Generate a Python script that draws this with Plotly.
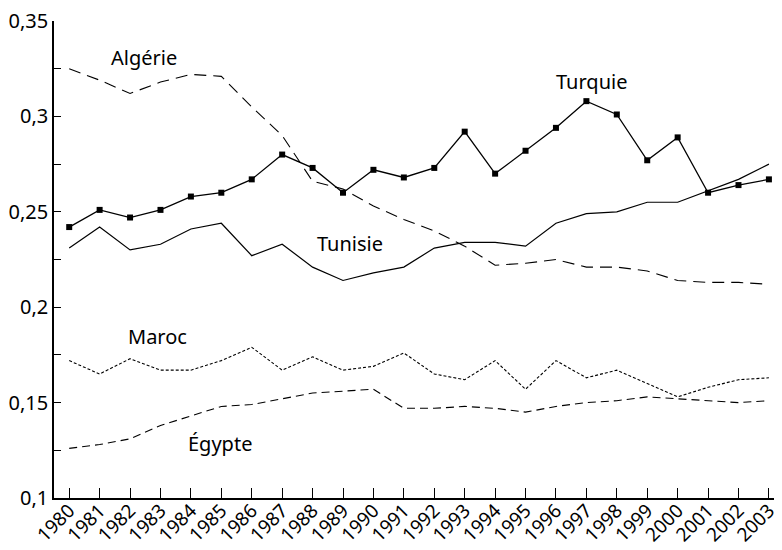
import plotly.graph_objects as go

years = list(range(1980, 2004))

turquie = [0.242, 0.251, 0.247, 0.251, 0.258, 0.260, 0.267, 0.280, 0.273, 0.260, 0.272, 0.268,
           0.273, 0.292, 0.270, 0.282, 0.294, 0.308, 0.301, 0.277, 0.289, 0.260, 0.264, 0.267]
tunisie = [0.231, 0.242, 0.230, 0.233, 0.241, 0.244, 0.227, 0.233, 0.221, 0.214, 0.218, 0.221,
           0.231, 0.234, 0.234, 0.232, 0.244, 0.249, 0.250, 0.255, 0.255, 0.261, 0.267, 0.275]
algerie = [0.325, 0.319, 0.312, 0.318, 0.322, 0.321, 0.305, 0.290, 0.266, 0.262, 0.253, 0.246,
           0.240, 0.232, 0.222, 0.223, 0.225, 0.221, 0.221, 0.219, 0.214, 0.213, 0.213, 0.212]
maroc = [0.172, 0.165, 0.173, 0.167, 0.167, 0.172, 0.179, 0.167, 0.174, 0.167, 0.169, 0.176,
         0.165, 0.162, 0.172, 0.157, 0.172, 0.163, 0.167, 0.160, 0.153, 0.158, 0.162, 0.163]
egypte = [0.126, 0.128, 0.131, 0.138, 0.143, 0.148, 0.149, 0.152, 0.155, 0.156, 0.157, 0.147,
          0.147, 0.148, 0.147, 0.145, 0.148, 0.150, 0.151, 0.153, 0.152, 0.151, 0.150, 0.151]

y_tickvals = [0.1, 0.125, 0.15, 0.175, 0.2, 0.225, 0.25, 0.275, 0.3, 0.325, 0.35]
y_ticktext = ["0,1", "", "0,15", "", "0,2", "", "0,25", "", "0,3", "", "0,35"]

labels = ["Algérie", "Turquie", "Tunisie", "Maroc", "Égypte"]
label_x = [1982.46, 1997.17, 1989.22, 1982.91, 1984.97]
label_y = [0.3309, 0.3183, 0.2335, 0.1847, 0.1287]

FONT = "Noto Sans"

fig = go.Figure()
fig.add_trace(go.Scatter(x=years, y=algerie, mode="lines",
                         line=dict(color="black", width=1.1, dash="12px,7px")))
fig.add_trace(go.Scatter(x=years, y=turquie, mode="lines+markers",
                         line=dict(color="black", width=1.3),
                         marker=dict(symbol="square", size=6, color="black")))
fig.add_trace(go.Scatter(x=years, y=tunisie, mode="lines",
                         line=dict(color="black", width=1.2)))
fig.add_trace(go.Scatter(x=years, y=maroc, mode="lines",
                         line=dict(color="black", width=1.1, dash="3px,2px")))
fig.add_trace(go.Scatter(x=years, y=egypte, mode="lines",
                         line=dict(color="black", width=1.1, dash="8px,5px")))

for t, xx, yy in zip(labels, label_x, label_y):
    fig.add_annotation(x=xx, y=yy, text=t, showarrow=False,
                       font=dict(family=FONT, size=20, color="black"),
                       xanchor="center", yanchor="middle")

# the page body adds an 8px offset, so the figure is 774x542
fig.update_layout(
    width=774, height=542,
    margin=dict(l=46, r=0, t=13, b=52),
    paper_bgcolor="white", plot_bgcolor="white",
    showlegend=False,
    font=dict(family=FONT, size=20, color="black"),
)
fig.update_xaxes(
    range=[1979.5, 2003.43], tickvals=years, ticktext=[str(y) for y in years],
    tickangle=-45, ticks="inside", ticklen=10, tickwidth=1.2, tickcolor="black",
    showline=True, linecolor="black", linewidth=2, showgrid=False, zeroline=False,
    tickfont=dict(family=FONT, size=19, color="black"), automargin=False,
    ticklabelstandoff=-8, ticklabeloverflow="allow",
)
fig.update_yaxes(
    range=[0.1, 0.35], tickvals=y_tickvals, ticktext=y_ticktext,
    ticks="inside", ticklen=7, tickwidth=1.2, tickcolor="black",
    showline=True, linecolor="black", linewidth=1.6, showgrid=False, zeroline=False,
    tickfont=dict(family=FONT, size=20, color="black"), automargin=False,
    ticklabeloverflow="allow",
)

fig.write_html("out.html")
